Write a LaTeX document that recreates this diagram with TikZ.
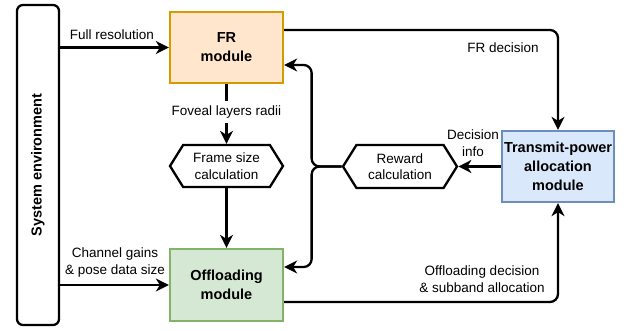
\documentclass[tikz,border=0pt]{standalone}
\usepackage{fontspec}
\setmainfont{Liberation Sans}
\usepackage{tikz}
\usetikzlibrary{arrows.meta,shapes,positioning,calc}
\definecolor{frfill}{HTML}{FFE6CC}
\definecolor{frdraw}{HTML}{D79B00}
\definecolor{offfill}{HTML}{D5E8D4}
\definecolor{offdraw}{HTML}{82B366}
\definecolor{tpfill}{HTML}{DAE8FC}
\definecolor{tpdraw}{HTML}{6C8EBF}
\tikzstyle{arrow} = [line width=2.3pt,-{Stealth[length=13pt,width=13pt,inset=4pt]},rounded corners=8pt]
\tikzstyle{plainline} = [line width=2.3pt]
\tikzstyle{module} = [rectangle, minimum width=113pt, minimum height=71pt, text centered, align=center, inner sep=1pt, line width=2.3pt, font=\fontsize{14.5}{19}\selectfont\bfseries]
\tikzstyle{calcbox} = [signal, signal to=east and west, signal pointer angle=116, minimum width=113pt, minimum height=42pt, draw, line width=2.3pt, fill=white, align=center, inner sep=0pt, font=\fontsize{13.5}{16.5}\selectfont]
\tikzstyle{envbox} = [rectangle, rounded corners=6pt, draw, line width=2.3pt, minimum width=42pt, minimum height=320pt]
\tikzstyle{lbl} = [align=center, inner sep=1pt, font=\fontsize{13.5}{17}\selectfont]

\begin{document}
\begin{tikzpicture}[x=1pt, y=-1pt]
    \useasboundingbox (0,0) rectangle (626,331);
    % Nodes
    \node[envbox, label={[rotate=90, font=\fontsize{14.5}{19}\selectfont\bfseries]center:System environment}] (env) at (38,165) {};
    \node[module, draw=frdraw, fill=frfill] (fr) at (226.5,47.5) {FR\\module};
    \node[module, draw=offdraw, fill=offfill, minimum height=72pt] (off) at (226.5,285) {Offloading\\module};
    \node[module, draw=tpdraw, fill=tpfill, minimum width=112pt] (tp) at (558,166.5) {Transmit-power\\allocation\\module};
    \node[calcbox] (frame) at (226.5,166) {Frame size\\calculation};
    \node[calcbox, minimum width=114pt, minimum height=43pt] (reward) at (400,166.5) {Reward\\calculation};

    % Labels
    \node[lbl] (fullres) at (112,35) {Full resolution};
    \node[lbl] (chan) at (115,263) {Channel gains\\\& pose data size};
    \node[lbl, inner sep=5pt] (foveal) at (226.5,112) {Foveal layers radii};
    \node[lbl] (frdec) at (503,48) {FR decision};
    \node[lbl] (decinfo) at (473,143) {Decision\\info};
    \node[lbl] (offdec) at (482,279) {Offloading decision\\\& subband allocation};

    % Coordinates
    \coordinate (frout) at ([yshift=17.5pt]fr.east);
    \coordinate (frin) at ([yshift=-17.5pt]fr.east);
    \coordinate (offin) at ([yshift=18pt]off.east);
    \coordinate (offout) at ([yshift=-17pt]off.east);

    % Arrows
    \draw[arrow] (env.east |- fr.west) -- (fr.west);
    \draw[arrow] (env.east |- off.west) -- (off.west);
    \draw[plainline] (fr.south) -- (foveal.north);
    \draw[arrow] (foveal.south) -- (frame.north);
    \draw[arrow] (frame.south) -- (off.north);
    \draw[arrow] (frout) -| (tp.north);
    \draw[arrow] (tp.west) -- (reward.east);
    \draw[arrow] (reward.west) -- ++(-30,0) |- (frin);
    \draw[arrow] (reward.west) -- ++(-30,0) |- (offin);
    \draw[arrow] (offout) -| (tp.south);
\end{tikzpicture}
\end{document}
